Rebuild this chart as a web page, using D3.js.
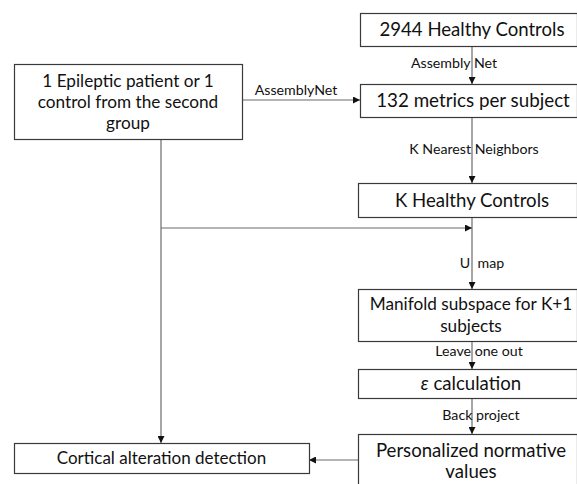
<!DOCTYPE html>
<html><head><meta charset="utf-8">
<script src="https://cdn.jsdelivr.net/npm/d3@7"></script>
<style>body{margin:0;background:#fff}svg{display:block}</style>
</head><body>
<script>
// Flowchart content
const nodeIds = ["hc", "metrics", "patient", "khc", "manifold", "eps", "pnv", "cad"];
const nodeLabels = [
  ["2944 Healthy Controls"],
  ["132 metrics per subject"],
  ["1 Epileptic patient or 1", "control from the second", "group"],
  ["K Healthy Controls"],
  ["Manifold subspace for K+1", "subjects"],
  ["ε calculation"],
  ["Personalized normative", "values"],
  ["Cortical alteration detection"]
];
const edgeLabels = ["Assembly Net", "AssemblyNet", "K Nearest Neighbors", "U map", "Leave one out", "Back project"];

const W = 577, H = 484;
const svg = d3.select("body").append("svg").attr("width", W).attr("height", H);
const defs = svg.append("defs");
defs.append("marker").attr("id", "arr").attr("viewBox", "0 0 10 10")
  .attr("refX", 10).attr("refY", 5).attr("markerWidth", 7).attr("markerHeight", 7)
  .attr("markerUnits", "userSpaceOnUse").attr("orient", "auto")
  .append("path").attr("d", "M0,0L10,5L0,10Z").attr("fill", "#111");

// layout (pixel geometry)
const box = {
  hc:       {x: 360, y: 13,  w: 217, h: 33, fs: 18.6, tx: 472},
  metrics:  {x: 360, y: 84,  w: 217, h: 33, fs: 18.8, tx: 473},
  patient:  {x: 14,  y: 64,  w: 228, h: 75, fs: 17.2, tx: 128},
  khc:      {x: 358, y: 183, w: 219, h: 34, fs: 18.6, tx: 472},
  manifold: {x: 358, y: 289, w: 219, h: 52, fs: 17.2, tx: 471},
  eps:      {x: 358, y: 369, w: 219, h: 29, fs: 18.6, tx: 471},
  pnv:      {x: 358, y: 434, w: 219, h: 55, fs: 18.6, tx: 471},
  cad:      {x: 14,  y: 443, w: 295, h: 30, fs: 17, tx: 161.5}
};
const lineH = {hc: 0, metrics: 0, patient: 21, khc: 0, manifold: 22, eps: 0, pnv: 21, cad: 0};

const lineColor = "#6b6b6b";
const g = svg.append("g");

// connectors
const links = [
  {pts: [[472, 46], [472, 84]]},
  {pts: [[242, 100], [360, 100]]},
  {pts: [[472, 117], [472, 183]]},
  {pts: [[472, 217], [472, 289]]},
  {pts: [[161, 228], [472, 228]]},
  {pts: [[472, 341], [472, 369]]},
  {pts: [[472, 398], [472, 434]]},
  {pts: [[161, 139], [161, 443]]},
  {pts: [[358, 460], [309, 460]]}
];
const lineGen = d3.line();
g.selectAll("path.link").data(links).join("path").attr("class", "link")
  .attr("d", d => lineGen(d.pts)).attr("fill", "none")
  .attr("stroke", lineColor).attr("stroke-width", 1.2)
  .attr("marker-end", "url(#arr)");

// boxes
const nodes = nodeIds.map((id, i) => ({id, lines: nodeLabels[i], ...box[id]}));
const ng = g.selectAll("g.node").data(nodes).join("g").attr("class", "node");
ng.append("rect").attr("x", d => d.x + 0.5).attr("y", d => d.y + 0.5)
  .attr("width", d => d.w).attr("height", d => d.h)
  .attr("fill", "#fff").attr("stroke", "#3a3a3a").attr("stroke-width", 1.2);
ng.each(function(d) {
  const lh = lineH[d.id];
  const n = d.lines.length;
  const cy = d.y + d.h / 2;
  d3.select(this).selectAll("text").data(d.lines).join("text")
    .attr("x", d.tx)
    .attr("y", (t, i) => cy + (i - (n - 1) / 2) * lh)
    .attr("dy", "0.35em")
    .attr("text-anchor", "middle")
    .attr("font-family", "Lato, 'Open Sans', sans-serif")
    .attr("font-size", d.fs)
    .attr("fill", "#111")
    .text(t => t);
});
// pnv box text positions (bottom cut off)
ng.filter(d => d.id === "pnv").selectAll("text")
  .attr("y", (t, i) => 450 + i * 21);
// eps italic epsilon
ng.filter(d => d.id === "eps").select("text").text(null)
  .call(t => { t.append("tspan").attr("font-style", "italic").text("ε"); t.append("tspan").text(" calculation"); });

// edge labels
const labelPos = [
  {x: 454, y: 63}, {x: 296, y: 90}, {x: 474, y: 149},
  {x: 482, y: 263}, {x: 479, y: 351}, {x: 481, y: 415}
];
g.selectAll("text.elab").data(edgeLabels).join("text").attr("class", "elab")
  .attr("x", (d, i) => labelPos[i].x).attr("y", (d, i) => labelPos[i].y)
  .attr("dy", "0.35em").attr("text-anchor", "middle")
  .attr("font-family", "Lato, 'Open Sans', sans-serif").attr("font-size", 14.2)
  .attr("fill", "#111")
  .attr("xml:space", "preserve")
  .text(d => d === "U map" ? "U  map" : d);
</script>
</body></html>
